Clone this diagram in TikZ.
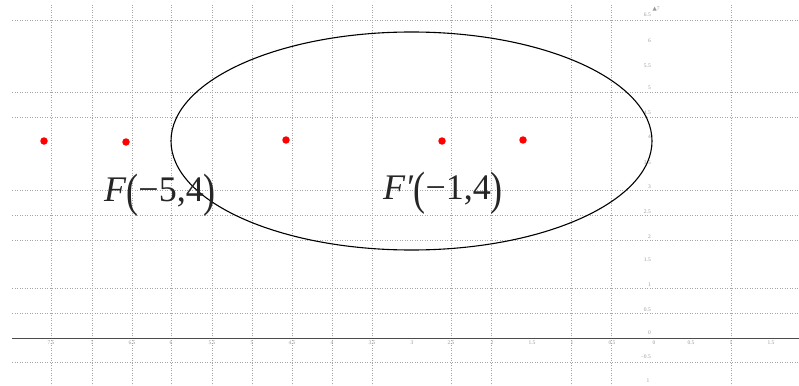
\documentclass[tikz,border=0pt]{standalone}
\usepackage{fontspec}
\setmainfont{Liberation Serif}
\newfontfamily\symfont{DejaVu Sans}
\newcommand\bigparL{\raisebox{-0.12em}{\scalebox{1}[1.3]{(}}}
\newcommand\bigparR{\raisebox{-0.12em}{\scalebox{1}[1.3]{)}}}
\begin{document}
\begin{tikzpicture}[x=1pt,y=-1pt,
  gridline/.style={gray!70,dotted,line width=0.5pt},
  axisline/.style={black!70,line width=0.9pt},
  curve/.style={black,line width=1.1pt},
  dot/.style={circle,fill=red,draw=none,inner sep=0pt,minimum size=7.5pt},
  ticklab/.style={font=\fontsize{5.5}{5.5}\selectfont,text=gray!80,inner sep=0pt},
  biglab/.style={font=\fontsize{36}{36}\selectfont,text=black!85,inner sep=0pt}]
\useasboundingbox (0,0) rectangle (799,385);
\fill[white] (0,0) rectangle (799,385);
% grid
\foreach \x in {51,92,132,171,212,252,292,332,372,451,491,571,611,731}
  \draw[gridline] (\x,5) -- (\x,385);
\foreach \y in {20,92,117,190,215,240,288,313,362}
  \draw[gridline] (12,\y) -- (799,\y);
% axis
\draw[axisline] (12,338) -- (799,338);
% x tick labels
\foreach \x/\t in {51/7.5,92/7,132/6.5,171/6,212/5.5,252/5,292/4.5,332/4,372/3.5,412/3,451/2.5,492/2,532/1.5,572/1,612/0.5,654/0,691/0.5,731/1,771/1.5}
  \node[ticklab] at (\x,343) {\t};
% y tick labels
\foreach \y/\t in {333/0,310/0.5,285/1,260/1.5,237/2,212/2.5,187/3,163/3.5,137/4,113/4.5,88/5,66/5.5,41/6,15/6.5}
  \node[ticklab,anchor=east] at (651,\y) {\t};
\node[ticklab,anchor=east] (ym) at (651,357) {−0.5};
\node[ticklab] (ym1) at (648,381) {1};
\node[ticklab] (ytop) at (656,9) {{\symfont ▲}7};
% ellipse
\draw[curve] (411.5,141) ellipse [x radius=240.5pt, y radius=109pt];
% points
\node[dot] (p1) at (44,141) {};
\node[dot] (p2) at (126,142) {};
\node[dot] (p3) at (286,140) {};
\node[dot] (p4) at (442,141) {};
\node[dot] (p5) at (523,140) {};
% labels
\node[biglab] (F) at (160,195) {\textit{F}\bigparL−5,4\bigparR};
\node[biglab] (Fp) at (443,193) {\textit{F′}\bigparL−1,4\bigparR};
\end{tikzpicture}
\end{document}
